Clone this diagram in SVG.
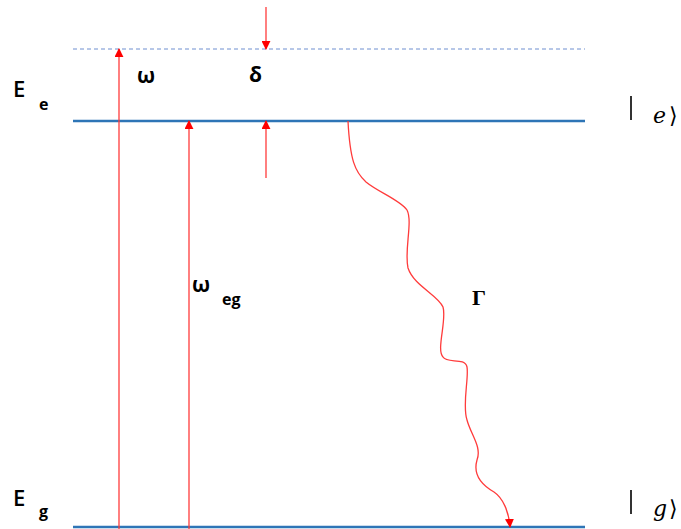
<svg xmlns="http://www.w3.org/2000/svg" width="681" height="529" viewBox="0 0 681 529">
<style>
.lvl{stroke:#2E75B6;stroke-width:2.5;fill:none}
.arr{stroke:#FF3B3B;stroke-width:1.3;fill:none}
.t{font-family:"Open Sans","Liberation Sans",sans-serif;fill:#000}
.b{font-weight:bold}
.it{font-family:"DejaVu Serif","Liberation Serif",serif;font-style:italic;fill:#000}
</style>
<defs>
<marker id="ah2" viewBox="0 0 10 10" refX="9" refY="5" markerWidth="9" markerHeight="9" markerUnits="userSpaceOnUse" orient="auto">
<path d="M0,0 L10,5 L0,10 z" fill="#FF0000"/>
</marker>
</defs>
<g id="levels">
<line x1="73" y1="49" x2="585" y2="49" stroke="#6F8FD0" stroke-width="1" stroke-dasharray="4,3"/>
<line class="lvl" x1="73" y1="121" x2="585" y2="121"/>
<line class="lvl" x1="73" y1="527" x2="585" y2="527"/>
</g>
<g id="connectors">
<line class="arr" x1="119" y1="529" x2="119" y2="49" marker-end="url(#ah2)"/>
<line class="arr" x1="189" y1="529" x2="189" y2="121" marker-end="url(#ah2)"/>
<line class="arr" x1="266" y1="7" x2="266" y2="49" marker-end="url(#ah2)"/>
<line class="arr" x1="266" y1="178" x2="266" y2="121" marker-end="url(#ah2)"/>
<path class="arr" d="M348,121 C350,160 355,172 366,182 C378,192 400,200 407,210 C413,222 404,250 408,268 C414,286 438,295 443,307 C447,320 436,350 443,357 C447,364 465,357 467,367 C469,378 462,405 467,420 C471,435 482,447 477,460 C473,474 480,484 494,492 C503,498 509,512 510,527" marker-end="url(#ah2)"/>
</g>
<g id="label-Ee">
<text class="t" x="13" y="97" font-size="22" font-weight="600">E</text>
<text class="t b" x="39" y="110" font-size="16">e</text>
</g>
<g id="label-Eg">
<text class="t" x="13" y="506" font-size="22" font-weight="600">E</text>
<text class="t b" x="39" y="517" font-size="16">g</text>
</g>
<g id="label-omega">
<text class="t b" x="137" y="83" font-size="21">ω</text>
</g>
<g id="label-delta">
<text class="t b" x="249" y="82" font-size="21">δ</text>
</g>
<g id="label-omega-eg">
<text class="t b" x="192" y="292" font-size="21">ω</text>
<text class="t b" x="222" y="305" font-size="16">eg</text>
</g>
<g id="label-gamma">
<text x="472" y="305" font-size="22" font-weight="bold" font-family="Liberation Serif,serif">Γ</text>
</g>
<g id="ket-e">
<line x1="631" y1="96" x2="631" y2="120" stroke="#333" stroke-width="2"/>
<text class="it" x="653" y="123" font-size="22">e</text>
<text x="669" y="123" font-size="22" font-family="DejaVu Sans,sans-serif">⟩</text>
</g>
<g id="ket-g">
<line x1="631" y1="490" x2="631" y2="514" stroke="#333" stroke-width="2"/>
<text class="it" x="653" y="516" font-size="22">g</text>
<text x="669" y="516" font-size="22" font-family="DejaVu Sans,sans-serif">⟩</text>
</g>
</svg>
